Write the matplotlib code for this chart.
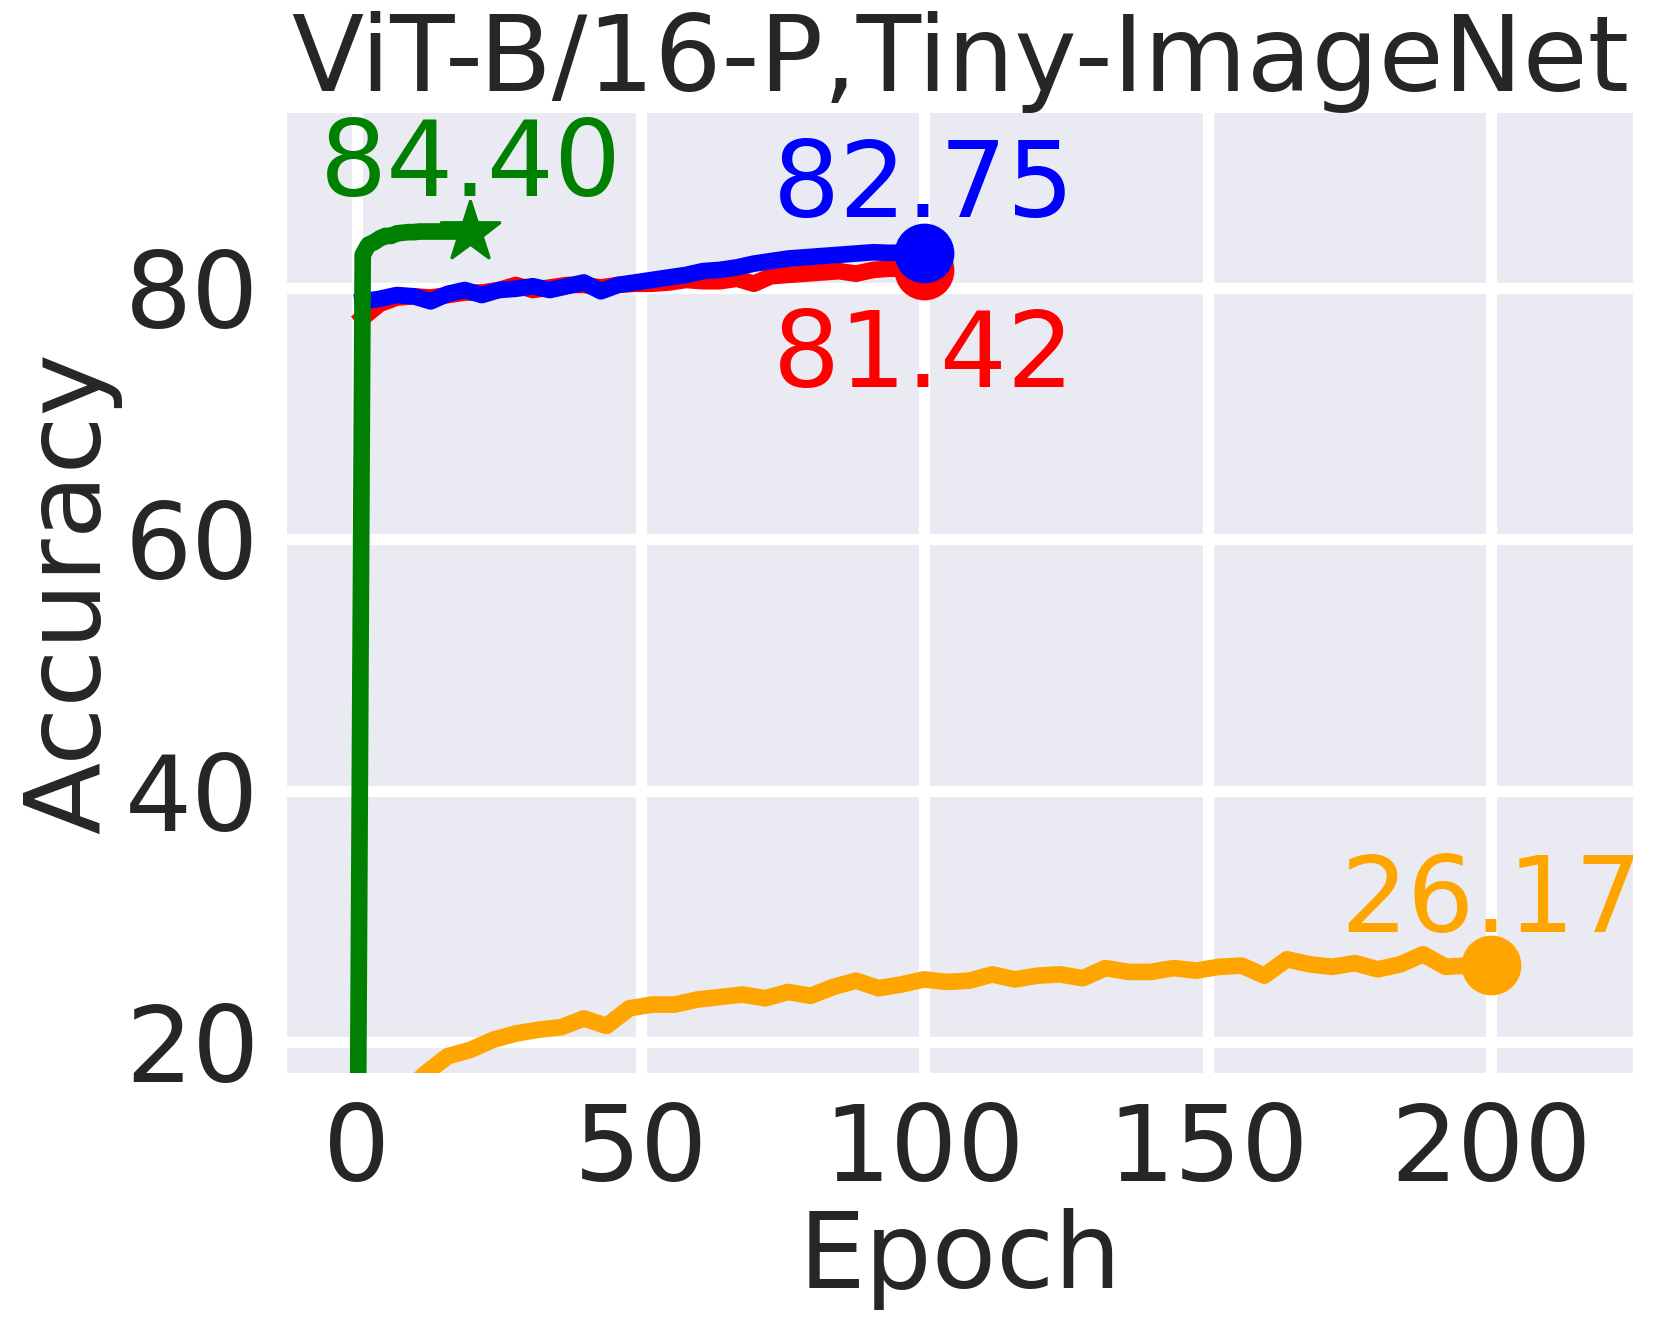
import numpy as np
import matplotlib
matplotlib.use('Agg')
import matplotlib.pyplot as plt


# green run (best 84.40 at epoch 20)
green_ep = [0, 1, 2, 3, 4, 5, 6, 7, 8, 9, 10, 11, 12, 13, 14, 15, 16, 17, 18, 19, 20]
green_acc = [0.5, 82.6, 83.4, 83.6, 83.9, 84.1, 84.1, 84.3, 84.35, 84.4, 84.4,
             84.45, 84.45, 84.45, 84.45, 84.45, 84.45, 84.45, 84.45, 84.45, 84.40]

# red / blue runs, 100 epochs
rb_ep = [1, 4, 7, 10, 13, 16, 19, 22, 25, 28, 31, 34, 37, 40, 43, 46, 49, 52,
         55, 58, 61, 64, 67, 70, 73, 76, 79, 82, 85, 88, 91, 94, 97, 100]
blue_acc = [78.9, 79.1, 79.4, 79.3, 78.9, 79.5, 79.8, 79.4, 79.8, 79.9, 80.1, 79.8,
            80.1, 80.4, 79.7, 80.2, 80.4, 80.6, 80.8, 81.0, 81.3, 81.4, 81.6, 81.9,
            82.1, 82.3, 82.4, 82.5, 82.6, 82.7, 82.8, 82.75, 82.8, 82.75]
red_acc = [77.6, 78.7, 79.2, 79.3, 79.2, 79.4, 79.6, 79.6, 79.8, 80.2, 79.8, 80.0,
           80.2, 80.2, 80.0, 80.2, 80.3, 80.3, 80.4, 80.6, 80.5, 80.5, 80.7, 80.3,
           80.9, 81.0, 81.1, 81.2, 81.3, 81.1, 81.4, 81.5, 81.5, 81.42]

# orange run, 200 epochs
orange_ep = [1, 4, 8, 12, 16, 20, 24, 28, 32, 36, 40, 44, 48, 52, 56, 60, 64, 68,
             72, 76, 80, 84, 88, 92, 96, 100, 104, 108, 112, 116, 120, 124, 128,
             132, 136, 140, 144, 148, 152, 156, 160, 164, 168, 172, 176, 180, 184,
             188, 192, 196, 200]
orange_acc = [9.0, 13.0, 15.8, 17.5, 18.9, 19.4, 20.2, 20.7, 21.0, 21.2, 21.9, 21.3,
              22.7, 23.0, 23.0, 23.4, 23.6, 23.8, 23.5, 24.0, 23.7, 24.4, 24.9, 24.3,
              24.6, 25.0, 24.8, 24.9, 25.4, 25.0, 25.3, 25.4, 25.1, 25.9, 25.6, 25.6,
              25.9, 25.7, 26.0, 26.1, 25.3, 26.6, 26.2, 26.0, 26.3, 25.8, 26.2, 27.0,
              26.0, 26.1, 26.17]

fs = 38
plt.rcParams['font.family'] = 'DejaVu Sans'
plt.rcParams['text.color'] = '.15'
plt.rcParams['axes.labelcolor'] = '.15'
plt.rcParams['xtick.color'] = '.15'
plt.rcParams['ytick.color'] = '.15'

fig = plt.figure(figsize=(8.305, 6.64), dpi=200)
ax = fig.add_axes([0.1728, 0.1920, 0.9834 - 0.1728, 0.9149 - 0.1920])
ax.set_facecolor('#EAEAF2')
for s in ax.spines.values():
    s.set_visible(False)
ax.grid(True, color='white', linewidth=4.0)
ax.set_axisbelow(True)

lw = 6.0
ax.plot(rb_ep, red_acc, color='red', lw=lw)
ax.plot(rb_ep[-1], red_acc[-1], 'o', color='red', ms=20.5)
ax.plot(rb_ep, blue_acc, color='blue', lw=lw)
ax.plot(rb_ep[-1], blue_acc[-1], 'o', color='blue', ms=20.5)
ax.plot(orange_ep, orange_acc, color='orange', lw=lw)
ax.plot(orange_ep[-1], orange_acc[-1], 'o', color='orange', ms=20.5)
ax.plot(green_ep, green_acc, color='green', lw=lw)
ax.plot(green_ep[-1], green_acc[-1], '*', color='green', ms=23)

ax.text(20, 84.40 + 2.87, '%.2f' % 84.40, color='green', fontsize=fs, ha='center', va='baseline')
ax.text(100, 82.75 + 2.85, '%.2f' % 82.75, color='blue', fontsize=fs, ha='center', va='baseline')
ax.text(100, 72.12, '%.2f' % 81.42, color='red', fontsize=fs, ha='center', va='baseline')
ax.text(200, 26.17 + 2.58, '%.2f' % 26.17, color='orange', fontsize=fs, ha='center', va='baseline')

ax.set_xlim(-12.35, 225.1)
ax.set_ylim(17.56, 93.87)
ax.set_xticks([0, 50, 100, 150, 200])
ax.set_yticks([20, 40, 60, 80])
ax.tick_params(axis='both', length=0, pad=10, labelsize=fs)
ax.set_xlabel('Epoch', fontsize=fs, labelpad=2)
ax.set_ylabel('Accuracy', fontsize=fs, labelpad=1)
ax.set_title('ViT-B/16-P,Tiny-ImageNet', fontsize=fs, pad=6)

fig.savefig('out.png', dpi=200)
